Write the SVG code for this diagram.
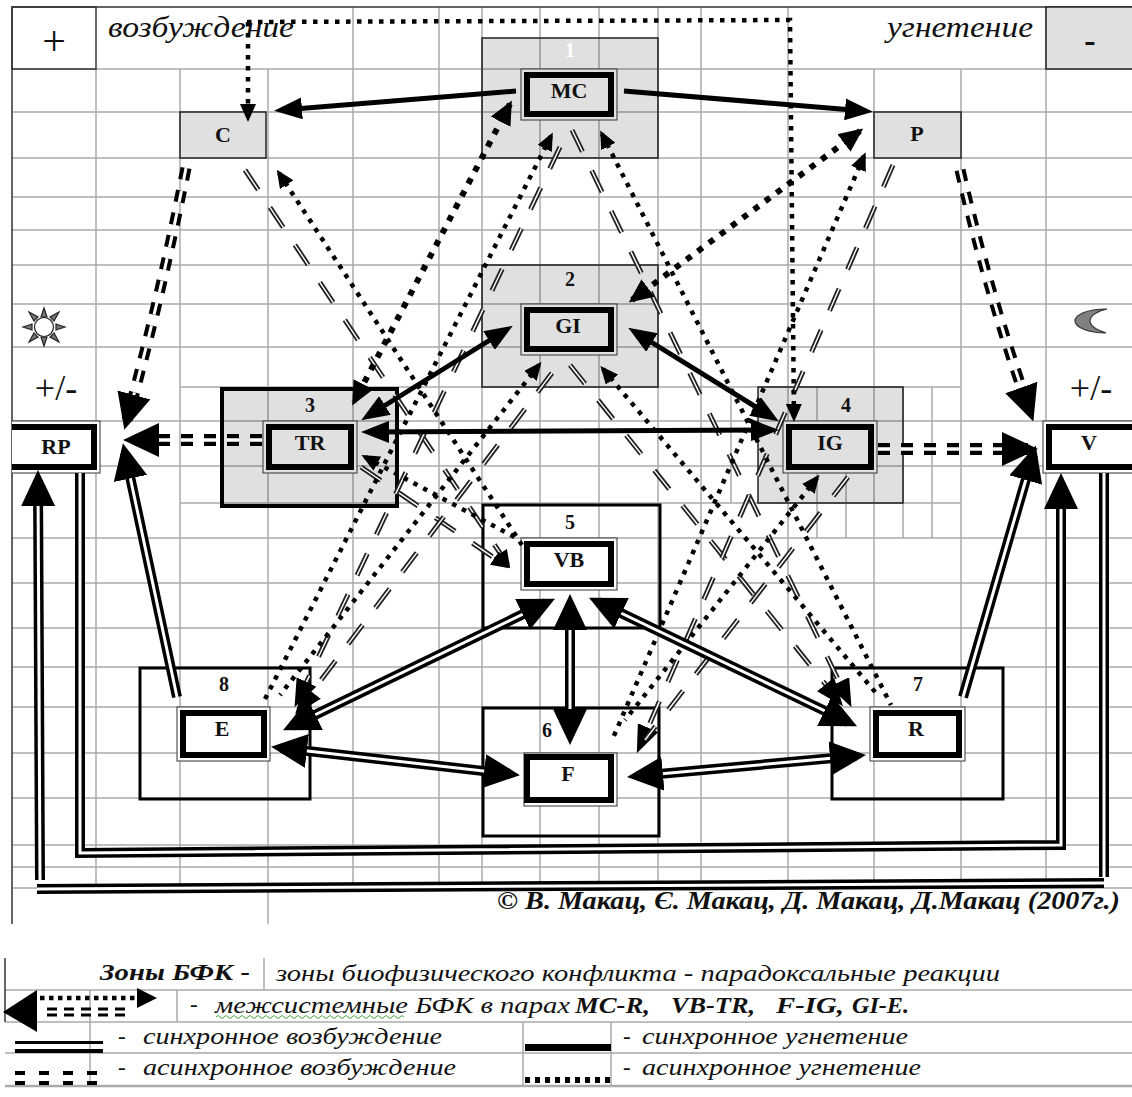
<svg xmlns="http://www.w3.org/2000/svg" width="1132" height="1097" viewBox="0 0 1132 1097">
<style>
text{font-family:"Liberation Serif","DejaVu Serif",serif;fill:#111}
.grid line{stroke:#aaa;stroke-width:1.5}
.border{stroke:#333;stroke-width:1.5;fill:none}
.shade{fill:#000;fill-opacity:.12;stroke:#222;stroke-width:1.5}
.solid{fill:#e0e0e0;stroke:#222;stroke-width:1.5}
.open{fill:none;stroke:#000;stroke-width:3}
.o{stroke:#333;stroke-width:1;fill:#fff}
.i{stroke:#000;stroke-width:6;fill:#fff}
.g .o,.g .i{fill:#e0e0e0}
.lab{font-weight:bold;font-size:22px;text-anchor:middle}
.num{font-weight:bold;font-size:20px;text-anchor:middle}
.big{font-size:36px;text-anchor:middle}
.it{font-style:italic;font-size:23px}
.bi{font-style:italic;font-weight:bold;font-size:23px}
.t{stroke:#000;stroke-width:5;fill:none}
.k{stroke:#000;stroke-width:10;fill:none}
.c{stroke:#fff;stroke-width:3;fill:none}
.h{stroke:#000;stroke-width:11;fill:none;stroke-dasharray:12 11}
.hc{stroke:#fff;stroke-width:3;fill:none;stroke-dasharray:12 11}
.d{stroke:#000;stroke-width:4.5;fill:none;stroke-dasharray:4.5 6.5}
.dt{stroke:#000;stroke-width:6;fill:none;stroke-dasharray:6 8}
.a{stroke:#222;stroke-width:5;fill:none;stroke-dasharray:24 21}
.ac{stroke:#fff;stroke-width:1.4;fill:none;stroke-dasharray:24 21}
</style>
<defs>
<marker id="hb" markerUnits="userSpaceOnUse" markerWidth="36" markerHeight="34" refX="26" refY="17" orient="auto-start-reverse"><path d="M0,0L36,17L0,34z"/></marker>
<marker id="hm" markerUnits="userSpaceOnUse" markerWidth="28" markerHeight="22" refX="20" refY="11" orient="auto-start-reverse"><path d="M0,0L28,11L0,22z"/></marker>
<marker id="hd" markerUnits="userSpaceOnUse" markerWidth="24" markerHeight="22" refX="20" refY="11" orient="auto-start-reverse"><path d="M0,0L24,11L0,22z"/></marker>
<marker id="hs" markerUnits="userSpaceOnUse" markerWidth="18" markerHeight="16" refX="14" refY="8" orient="auto-start-reverse"><path d="M0,0L18,8L0,16z"/></marker>
<clipPath id="clipL"><rect x="12" y="410" width="100" height="75"/></clipPath>
</defs>

<g class="grid">
<line x1="12" y1="69" x2="1132" y2="69"/><line x1="12" y1="112" x2="1132" y2="112"/><line x1="12" y1="158" x2="1132" y2="158"/><line x1="12" y1="197" x2="1132" y2="197"/><line x1="12" y1="230" x2="1132" y2="230"/><line x1="12" y1="265" x2="1132" y2="265"/><line x1="12" y1="304" x2="1132" y2="304"/><line x1="12" y1="347" x2="1132" y2="347"/><line x1="180" y1="387" x2="961" y2="387"/><line x1="12" y1="421" x2="1132" y2="421"/><line x1="12" y1="466" x2="1132" y2="466"/><line x1="180" y1="503" x2="961" y2="503"/><line x1="12" y1="538" x2="1132" y2="538"/><line x1="12" y1="583" x2="1132" y2="583"/><line x1="12" y1="628" x2="1132" y2="628"/><line x1="12" y1="667" x2="1132" y2="667"/><line x1="12" y1="707" x2="1132" y2="707"/><line x1="12" y1="753" x2="1132" y2="753"/><line x1="12" y1="798" x2="1132" y2="798"/><line x1="12" y1="845" x2="1132" y2="845"/><line x1="12" y1="867" x2="1132" y2="867"/><line x1="12" y1="888" x2="1132" y2="888"/>
<line x1="96" y1="69" x2="96" y2="888"/><line x1="180" y1="69" x2="180" y2="888"/><line x1="268" y1="69" x2="268" y2="924"/><line x1="353" y1="7" x2="353" y2="888"/><line x1="439" y1="7" x2="439" y2="888"/><line x1="482" y1="7" x2="482" y2="888"/><line x1="540" y1="7" x2="540" y2="888"/><line x1="599" y1="7" x2="599" y2="888"/><line x1="658" y1="7" x2="658" y2="888"/><line x1="701" y1="7" x2="701" y2="888"/><line x1="788" y1="7" x2="788" y2="888"/><line x1="874" y1="69" x2="874" y2="888"/><line x1="961" y1="69" x2="961" y2="888"/><line x1="1046" y1="7" x2="1046" y2="888"/>
<line x1="731" y1="387" x2="731" y2="503"/><line x1="817" y1="387" x2="817" y2="538"/><line x1="846" y1="421" x2="846" y2="538"/><line x1="903" y1="387" x2="903" y2="538"/><line x1="932" y1="387" x2="932" y2="538"/>
</g>
<path class="border" d="M12,924V7H1132"/>

<g id="zone-plus"><rect class="border" x="12" y="7" width="84" height="62"/><text x="54" y="55" font-size="42" text-anchor="middle">+</text></g>
<g id="zone-minus"><rect class="solid" x="1046" y="7" width="90" height="62"/><text x="1090" y="52" font-size="34" font-weight="bold" text-anchor="middle">-</text></g>
<text x="108" y="37" font-size="29" font-style="italic" textLength="186" lengthAdjust="spacingAndGlyphs">возбуждение</text>
<text x="887" y="37" font-size="29" font-style="italic" textLength="146" lengthAdjust="spacingAndGlyphs">угнетение</text>
<text class="big" x="56" y="400">+/-</text>
<text class="big" x="1091" y="400">+/-</text>

<g id="sun" fill="#777" stroke="#222" stroke-width="1.2">
<circle cx="44" cy="327" r="9.5" fill="#fff"/>
<path d="M44,308l-3,9h6z"/><path d="M44,346l-3,-9h6z"/><path d="M23,327l9,-3v6z"/><path d="M65,327l-9,-3v6z"/><path d="M29,312l5,9 4,-4z"/><path d="M59,312l-5,9 -4,-4z"/><path d="M29,342l5,-9 4,4z"/><path d="M59,342l-5,-9 -4,4z"/>
</g>
<path id="moon" d="M1107,309C1086,309 1075,315 1075,321C1075,327 1088,333 1106,333C1097,330 1090,326 1090,321C1090,316 1097,311 1107,309Z" fill="#808080" stroke="#333" stroke-width="1.2"/>

<g id="node-1"><rect class="shade" x="482" y="38" width="176" height="120"/><text class="num" x="570" y="57" style="fill:#fff">1</text></g>
<g id="node-2"><rect class="shade" x="482" y="265" width="176" height="122"/><text class="num" x="570" y="286">2</text></g>
<g id="node-3"><rect class="shade" x="222" y="389" width="175" height="117" style="stroke:#000;stroke-width:4"/><text class="num" x="310" y="412">3</text></g>
<g id="node-4"><rect class="shade" x="758" y="387" width="145" height="116"/><text class="num" x="846" y="412">4</text></g>
<g id="node-5"><rect class="open" x="483" y="505" width="177" height="123"/><text class="num" x="570" y="529">5</text></g>
<g id="node-6"><rect class="open" x="483" y="708" width="176" height="128"/><text class="num" x="547" y="737">6</text></g>
<g id="node-7"><rect class="open" x="832" y="668" width="171" height="131"/><text class="num" x="918" y="691">7</text></g>
<g id="node-8"><rect class="open" x="140" y="668" width="170" height="131"/><text class="num" x="224" y="691">8</text></g>
<g id="node-C"><rect class="solid" x="180" y="112" width="86" height="46"/><text class="lab" x="223" y="142">C</text></g>
<g id="node-P"><rect class="solid" x="874" y="112" width="87" height="46"/><text class="lab" x="917" y="141">P</text></g>

<g id="node-MC" class="g"><rect class="o" x="521" y="69" width="96" height="51"/><rect class="i" x="527" y="75" width="84" height="39"/><text class="lab" x="569" y="98">MC</text></g>
<g id="node-GI" class="g"><rect class="o" x="521" y="304" width="96" height="51"/><rect class="i" x="527" y="310" width="84" height="39"/><text class="lab" x="568" y="333">GI</text></g>
<g id="node-TR" class="g"><rect class="o" x="263" y="421" width="94" height="52"/><rect class="i" x="269" y="427" width="82" height="40"/><text class="lab" x="310" y="450">TR</text></g>
<g id="node-IG" class="g"><rect class="o" x="783" y="421" width="94" height="52"/><rect class="i" x="789" y="427" width="82" height="40"/><text class="lab" x="830" y="450">IG</text></g>
<g id="node-VB"><rect class="o" x="521" y="538" width="96" height="52"/><rect class="i" x="527" y="544" width="84" height="40"/><text class="lab" x="569" y="567">VB</text></g>
<g id="node-F"><rect class="o" x="524" y="753" width="93" height="53"/><rect class="i" x="527" y="757" width="84" height="43"/><text class="lab" x="568" y="781">F</text></g>
<g id="node-E"><rect class="o" x="177" y="707" width="93" height="54"/><rect class="i" x="183" y="713" width="81" height="42"/><text class="lab" x="222" y="736">E</text></g>
<g id="node-R"><rect class="o" x="870" y="707" width="95" height="54"/><rect class="i" x="876" y="713" width="83" height="42"/><text class="lab" x="916" y="736">R</text></g>
<g id="node-RP" clip-path="url(#clipL)"><rect class="o" x="-10" y="421" width="110" height="52"/><rect class="i" x="-4" y="427" width="98" height="40"/><text class="lab" x="56" y="454">RP</text></g>
<g id="node-V"><rect class="o" x="1043" y="421" width="100" height="52"/><rect class="i" x="1049" y="427" width="100" height="40"/><text class="lab" x="1089" y="450">V</text></g>

<g id="connectors">
<line class="a" x1="245" y1="170" x2="508" y2="565"/><line class="ac" x1="245" y1="170" x2="508" y2="565" marker-end="url(#hs)"/>
<line class="a" x1="361" y1="467" x2="506" y2="566"/><line class="ac" x1="361" y1="467" x2="506" y2="566" marker-end="url(#hs)"/>
<line class="a" x1="560" y1="147" x2="298" y2="700"/><line class="ac" x1="560" y1="147" x2="298" y2="700" marker-end="url(#hm)"/>
<line class="a" x1="552" y1="373" x2="300" y2="708"/><line class="ac" x1="552" y1="373" x2="300" y2="708" marker-end="url(#hm)"/>
<line class="a" x1="572" y1="130" x2="848" y2="700"/><line class="ac" x1="572" y1="130" x2="848" y2="700" marker-end="url(#hm)"/>
<line class="a" x1="570" y1="365" x2="838" y2="700"/><line class="ac" x1="570" y1="365" x2="838" y2="700" marker-end="url(#hm)"/>
<line class="a" x1="893" y1="165" x2="640" y2="746"/><line class="ac" x1="893" y1="165" x2="640" y2="746" marker-end="url(#hm)"/>
<line class="a" x1="848" y1="477" x2="645" y2="740"/><line class="ac" x1="848" y1="477" x2="645" y2="740"/>
<path class="d" d="M247,22L790,20L794,418" marker-end="url(#hs)"/>
<line class="d" x1="248" y1="22" x2="248" y2="118" marker-end="url(#hs)"/>
<line class="dt" x1="510" y1="104" x2="354" y2="402" marker-start="url(#hd)" marker-end="url(#hd)"/>
<line class="dt" x1="860" y1="131" x2="632" y2="300" marker-start="url(#hd)" marker-end="url(#hd)"/>
<line class="d" x1="551" y1="136" x2="263" y2="703" marker-start="url(#hs)"/>
<line class="d" x1="539" y1="365" x2="280" y2="695" marker-start="url(#hs)"/>
<line class="d" x1="279" y1="173" x2="522" y2="545" marker-start="url(#hs)"/>
<line class="d" x1="365" y1="457" x2="520" y2="540" marker-start="url(#hs)"/>
<line class="d" x1="602" y1="134" x2="891" y2="705" marker-start="url(#hs)"/>
<line class="d" x1="603" y1="369" x2="876" y2="693" marker-start="url(#hs)"/>
<line class="d" x1="864" y1="156" x2="613" y2="738" marker-start="url(#hs)"/>
<line class="d" x1="817" y1="478" x2="625" y2="720" marker-start="url(#hs)"/>
<path class="h" d="M186,168Q160,300 127,420"/><path class="hc" d="M186,168Q160,300 127,420" marker-end="url(#hb)"/>
<line class="h" x1="262" y1="440" x2="133" y2="440" style="stroke-width:12"/><line class="hc" x1="262" y1="440" x2="133" y2="440" style="stroke-width:3.5" marker-end="url(#hb)"/>
<path class="h" d="M960,170Q990,300 1030,412"/><path class="hc" d="M960,170Q990,300 1030,412" marker-end="url(#hb)"/>
<line class="h" x1="878" y1="449" x2="1028" y2="449" style="stroke-width:12"/><line class="hc" x1="878" y1="449" x2="1028" y2="449" style="stroke-width:3.5" marker-end="url(#hb)"/>
<line class="t" x1="516" y1="91" x2="282" y2="110" marker-end="url(#hm)"/>
<line class="t" x1="624" y1="91" x2="865" y2="111" marker-end="url(#hm)"/>
<line class="t" x1="506" y1="330" x2="368" y2="416" marker-start="url(#hm)" marker-end="url(#hm)"/>
<line class="t" x1="635" y1="332" x2="772" y2="417" marker-start="url(#hm)" marker-end="url(#hm)"/>
<line class="t" x1="369" y1="432" x2="771" y2="430" marker-start="url(#hm)" marker-end="url(#hm)"/>
<line class="k" x1="570" y1="604" x2="570" y2="735"/><line class="c" x1="570" y1="604" x2="570" y2="735" marker-start="url(#hb)" marker-end="url(#hb)"/>
<line class="k" x1="177" y1="697" x2="125" y2="453"/><line class="c" x1="177" y1="697" x2="125" y2="453" marker-end="url(#hb)"/>
<line class="k" x1="963" y1="697" x2="1033" y2="455"/><line class="c" x1="963" y1="697" x2="1033" y2="455" marker-end="url(#hb)"/>
<line class="k" x1="292" y1="726" x2="546" y2="603"/><line class="c" x1="292" y1="726" x2="546" y2="603" marker-start="url(#hb)" marker-end="url(#hb)"/>
<line class="k" x1="281" y1="748" x2="510" y2="774"/><line class="c" x1="281" y1="748" x2="510" y2="774" marker-start="url(#hb)" marker-end="url(#hb)"/>
<line class="k" x1="637" y1="776" x2="856" y2="756"/><line class="c" x1="637" y1="776" x2="856" y2="756" marker-start="url(#hb)" marker-end="url(#hb)"/>
<line class="k" x1="598" y1="602" x2="848" y2="722"/><line class="c" x1="598" y1="602" x2="848" y2="722" marker-start="url(#hb)" marker-end="url(#hb)"/>
<path class="k" d="M80,473V853L1061,845V483"/><path class="c" d="M80,473V853L1061,845V483" marker-end="url(#hb)"/>
<line class="k" x1="40" y1="880" x2="38" y2="480"/><line class="c" x1="40" y1="880" x2="38" y2="480" marker-end="url(#hb)"/>
<line class="k" x1="1104" y1="473" x2="1104" y2="877"/><line class="c" x1="1104" y1="473" x2="1104" y2="877"/>
<line class="k" x1="37" y1="889" x2="1104" y2="883"/><line class="c" x1="37" y1="889" x2="1104" y2="883"/>
</g>

<text x="497" y="909" font-size="26" font-style="italic" font-weight="bold" textLength="623" lengthAdjust="spacingAndGlyphs">© В. Макац, Є. Макац, Д. Макац, Д.Макац (2007г.)</text>

<g id="legend">
<g class="grid">
<line x1="5" y1="990" x2="1132" y2="990"/><line x1="5" y1="1022" x2="1132" y2="1022"/><line x1="5" y1="1053" x2="1132" y2="1053"/><line x1="5" y1="1086" x2="1132" y2="1086" style="stroke-width:2.5"/>
<line x1="264" y1="958" x2="264" y2="990"/><line x1="177" y1="990" x2="177" y2="1022"/><line x1="90" y1="990" x2="90" y2="1086"/><line x1="523" y1="1022" x2="523" y2="1086"/><line x1="611" y1="1022" x2="611" y2="1086"/>
</g>
<line x1="5" y1="958" x2="5" y2="1022" stroke="#333" stroke-width="1.5"/>
<text class="bi" x="100" y="980" textLength="150" lengthAdjust="spacingAndGlyphs">Зоны БФК -</text>
<text class="it" x="276" y="981" textLength="724" lengthAdjust="spacingAndGlyphs">зоны биофизического конфликта - парадоксальные реакции</text>
<line class="d" x1="40" y1="998" x2="138" y2="998" style="stroke-dasharray:4.5 4.5"/>
<path d="M137,988L157,998L137,1008z"/>
<line class="h" x1="47" y1="1012" x2="130" y2="1012" style="stroke-dasharray:10 7;stroke-width:9"/>
<line class="hc" x1="47" y1="1012" x2="130" y2="1012" style="stroke-dasharray:10 7"/>
<path d="M3,1012L37,990V1032z"/>
<text class="it" x="190" y="1012">-</text>
<text class="it" x="215" y="1013" textLength="355" lengthAdjust="spacingAndGlyphs">межсистемные БФК в парах</text>
<path d="M216,1017q2,-3 4,0t4,0 4,0 4,0 4,0 4,0 4,0 4,0 4,0 4,0 4,0 4,0 4,0 4,0 4,0 4,0 4,0 4,0 4,0 4,0 4,0 4,0 4,0 4,0 4,0 4,0 4,0 4,0 4,0 4,0 4,0 4,0 4,0 4,0 4,0 4,0 4,0 4,0 4,0 4,0 4,0 4,0 4,0 4,0 4,0 4,0 4,0" fill="none" stroke="#4a4" stroke-width="1"/>
<text class="bi" x="575" y="1013" textLength="75" lengthAdjust="spacingAndGlyphs">MC-R,</text>
<text class="bi" x="671" y="1013" textLength="84" lengthAdjust="spacingAndGlyphs">VB-TR,</text>
<text class="bi" x="776" y="1013" textLength="68" lengthAdjust="spacingAndGlyphs">F-IG,</text>
<text class="bi" x="852" y="1013" textLength="57" lengthAdjust="spacingAndGlyphs">GI-E.</text>
<rect x="15" y="1041" width="88" height="3"/><rect x="15" y="1049" width="88" height="4"/>
<text class="it" x="118" y="1044">-</text><text class="it" x="143" y="1044" textLength="299" lengthAdjust="spacingAndGlyphs">синхронное возбуждение</text>
<rect x="525" y="1044" width="86" height="7"/>
<text class="it" x="623" y="1044">-</text><text class="it" x="642" y="1044" textLength="266" lengthAdjust="spacingAndGlyphs">синхронное угнетение</text>
<path d="M15,1073h83M15,1083h83" stroke="#000" stroke-width="4" stroke-dasharray="10 14" fill="none"/>
<text class="it" x="118" y="1075">-</text><text class="it" x="143" y="1075" textLength="313" lengthAdjust="spacingAndGlyphs">асинхронное возбуждение</text>
<line x1="525" y1="1080" x2="611" y2="1080" stroke="#000" stroke-width="6" stroke-dasharray="5 5"/>
<text class="it" x="623" y="1075">-</text><text class="it" x="642" y="1075" textLength="279" lengthAdjust="spacingAndGlyphs">асинхронное угнетение</text>
</g>
</svg>
